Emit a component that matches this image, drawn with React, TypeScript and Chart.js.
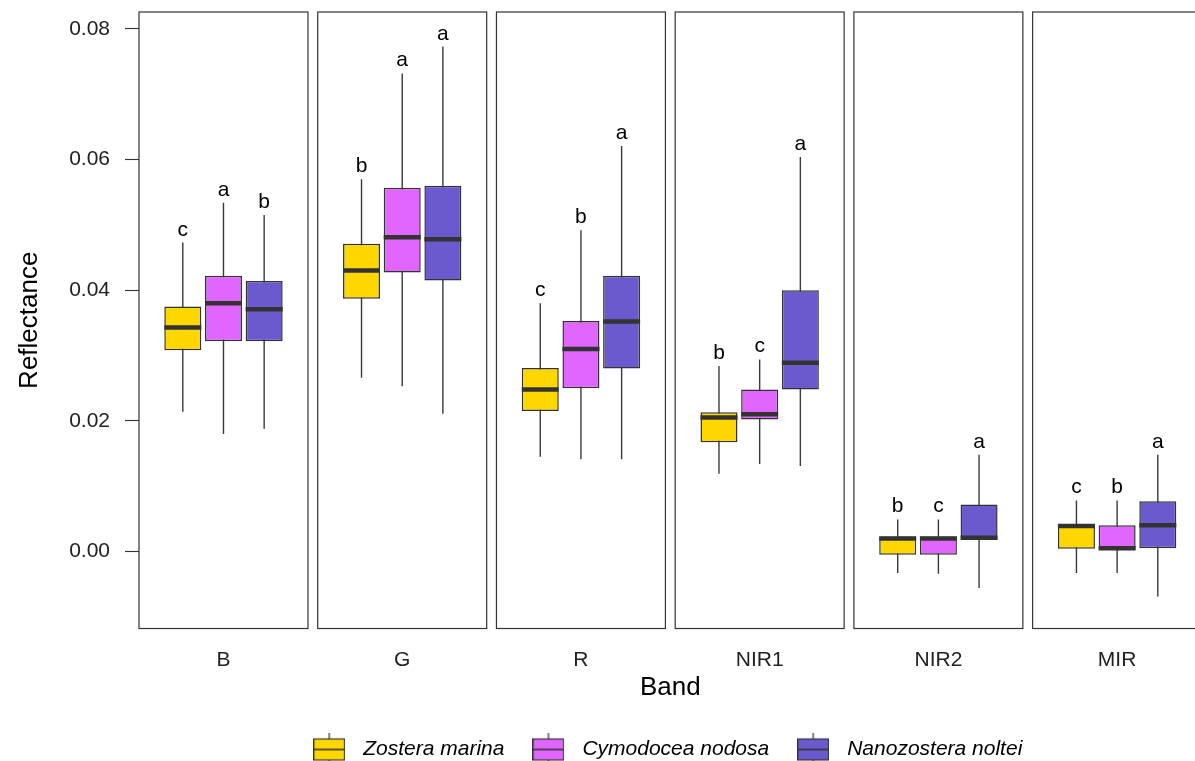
import React, { useEffect, useRef } from 'react';
import { Chart, registerables } from 'chart.js';

Chart.register(...registerables);

// ---------- data ----------
const BANDS = ['B', 'G', 'R', 'NIR1', 'NIR2', 'MIR'];
const SPECIES = ['Zostera marina', 'Cymodocea nodosa', 'Nanozostera noltei'];
const COLORS = ['#FFD700', '#E066FF', '#6A5ACD'];

// per band: [lower whisker, Q1, median, Q3, upper whisker]
const ZOSTERA_STATS = [
  [0.0214, 0.0308, 0.0343, 0.0375, 0.0473],
  [0.0266, 0.0387, 0.0430, 0.0471, 0.0570],
  [0.0145, 0.0215, 0.0248, 0.0281, 0.0380],
  [0.0119, 0.0167, 0.0205, 0.0213, 0.0284],
  [-0.0033, -0.0005, 0.0020, 0.0023, 0.0049],
  [-0.0033, 0.0004, 0.0039, 0.0042, 0.0078],
];
const CYMODOCEA_STATS = [
  [0.0180, 0.0322, 0.0380, 0.0422, 0.0534],
  [0.0253, 0.0427, 0.0481, 0.0557, 0.0732],
  [0.0141, 0.0250, 0.0310, 0.0353, 0.0492],
  [0.0134, 0.0202, 0.0210, 0.0248, 0.0294],
  [-0.0034, -0.0005, 0.0020, 0.0023, 0.0049],
  [-0.0033, 0.0003, 0.0005, 0.0040, 0.0078],
];
const NANOZOSTERA_STATS = [
  [0.0188, 0.0322, 0.0371, 0.0414, 0.0515],
  [0.0211, 0.0415, 0.0478, 0.0560, 0.0773],
  [0.0141, 0.0280, 0.0352, 0.0422, 0.0621],
  [0.0131, 0.0248, 0.0289, 0.0400, 0.0604],
  [-0.0056, 0.0019, 0.0021, 0.0072, 0.0148],
  [-0.0069, 0.0005, 0.0040, 0.0077, 0.0148],
];

const ZOSTERA_LETTERS = ['c', 'b', 'c', 'b', 'b', 'c'];
const CYMODOCEA_LETTERS = ['a', 'a', 'b', 'c', 'c', 'b'];
const NANOZOSTERA_LETTERS = ['b', 'a', 'a', 'a', 'a', 'a'];

const Y_TICKS = [0, 0.02, 0.04, 0.06, 0.08];

const STATS = [ZOSTERA_STATS, CYMODOCEA_STATS, NANOZOSTERA_STATS];
const LETTERS = [ZOSTERA_LETTERS, CYMODOCEA_LETTERS, NANOZOSTERA_LETTERS];

// ---------- layout (x in category units) ----------
const PITCH = 1.318;
const OFFSETS = [-0.3, 0, 0.3];
const HALF = 0.623;
const Y_MIN = -0.0118;
const Y_MAX = 0.0826;

const FONT = 'Liberation Sans, Arial, Helvetica, sans-serif';
const DARK = '#333333';

const pos = (band: number, sp: number) => band * PITCH + OFFSETS[sp];

function makeGlyph(color: string): HTMLCanvasElement {
  const c = document.createElement('canvas');
  c.width = 32;
  c.height = 34;
  const g = c.getContext('2d')!;
  g.strokeStyle = DARK;
  g.lineWidth = 1.2;
  g.beginPath();
  g.moveTo(16, 0);
  g.lineTo(16, 34);
  g.stroke();
  g.fillStyle = color;
  g.fillRect(0.6, 6.5, 30.8, 21);
  g.strokeRect(0.6, 6.5, 30.8, 21);
  g.lineWidth = 1.6;
  g.beginPath();
  g.moveTo(0.6, 17);
  g.lineTo(31.4, 17);
  g.stroke();
  return c;
}

const zeroPad = (s: any) => {
  s.paddingTop = 0;
  s.paddingBottom = 0;
  s.paddingLeft = 0;
  s.paddingRight = 0;
};

const panelPlugin = {
  id: 'panels',
  beforeDatasetsDraw(chart: any) {
    const { ctx, chartArea, scales } = chart;
    const x = scales.x;
    ctx.save();
    ctx.strokeStyle = DARK;
    ctx.lineWidth = 1.2;
    BANDS.forEach((_, i) => {
      const l = x.getPixelForValue(i * PITCH - HALF);
      const r = x.getPixelForValue(i * PITCH + HALF);
      ctx.strokeRect(l, chartArea.top, r - l, chartArea.bottom - chartArea.top);
    });
    ctx.restore();
  },
  afterDatasetsDraw(chart: any) {
    const { ctx, scales } = chart;
    ctx.save();
    ctx.fillStyle = '#000';
    ctx.font = `21px ${FONT}`;
    ctx.textAlign = 'center';
    ctx.textBaseline = 'alphabetic';
    BANDS.forEach((_, i) => {
      SPECIES.forEach((__, s) => {
        const px = scales.x.getPixelForValue(pos(i, s));
        const py = scales.y.getPixelForValue(STATS[s][i][4]) - 7;
        ctx.fillText(LETTERS[s][i], px, py);
      });
    });
    ctx.restore();
  },
};

export default function App() {
  const ref = useRef<HTMLCanvasElement>(null);

  useEffect(() => {
    const glyphs = COLORS.map(makeGlyph);
    const datasets: any[] = [];
    SPECIES.forEach((name, s) => {
      datasets.push({
        type: 'bar',
        label: name + ' whisker',
        data: BANDS.map((_, i) => ({ x: pos(i, s), y: [STATS[s][i][0], STATS[s][i][4]] })),
        backgroundColor: '#3a3a3a',
        borderWidth: 0,
        barThickness: 1.4,
        grouped: false,
        inflateAmount: 0,
        order: 3,
      });
    });
    SPECIES.forEach((name, s) => {
      datasets.push({
        type: 'bar',
        label: name,
        data: BANDS.map((_, i) => ({ x: pos(i, s), y: [STATS[s][i][1], STATS[s][i][3]] })),
        backgroundColor: COLORS[s],
        borderColor: DARK,
        borderWidth: 1.5,
        borderSkipped: false,
        barThickness: 37,
        grouped: false,
        inflateAmount: 0,
        order: 2,
      });
    });
    SPECIES.forEach((name, s) => {
      datasets.push({
        type: 'scatter',
        label: name + ' median',
        data: BANDS.map((_, i) => ({ x: pos(i, s), y: STATS[s][i][2] })),
        pointStyle: 'line',
        pointRadius: 18.5,
        pointHoverRadius: 18.5,
        pointBorderColor: DARK,
        pointBorderWidth: 4.5,
        borderColor: DARK,
        showLine: false,
        order: 1,
      });
    });

    const chart = new Chart(ref.current!, {
      type: 'bar',
      data: { datasets },
      plugins: [panelPlugin],
      options: {
        responsive: false,
        animation: false,
        devicePixelRatio: 1,
        layout: { autoPadding: false, padding: { top: 12, left: 0, right: 0, bottom: 0 } },
        plugins: {
          tooltip: { enabled: false },
          legend: {
            display: true,
            position: 'bottom',
            labels: {
              usePointStyle: true,
              pointStyleWidth: 47,
              padding: 20.5,
              color: '#000',
              font: { family: FONT, size: 21, style: 'italic' },
              generateLabels: () =>
                SPECIES.map((name, s) => ({
                  text: name,
                  pointStyle: glyphs[s],
                  fillStyle: COLORS[s],
                  strokeStyle: DARK,
                  lineWidth: 0,
                  hidden: false,
                  datasetIndex: 3 + s,
                  fontColor: '#000',
                })),
            },
          },
        },
        scales: {
          x: {
            type: 'linear',
            min: -HALF,
            max: (BANDS.length - 1) * PITCH + HALF,
            offset: false,
            grid: { display: false, drawTicks: false, tickLength: 0 },
            border: { display: false },
            afterBuildTicks: (s: any) => {
              s.ticks = BANDS.map((_, i) => ({ value: i * PITCH }));
            },
            afterFit: (s: any) => {
              s.height = 90;
              zeroPad(s);
            },
            ticks: {
              autoSkip: false,
              maxRotation: 0,
              padding: 19,
              color: '#222',
              font: { family: FONT, size: 21 },
              callback: (_v: any, idx: number) => BANDS[idx],
            },
            title: {
              display: true,
              text: 'Band',
              color: '#000',
              font: { family: FONT, size: 26 },
              padding: { top: 0, bottom: 15.4 },
            },
          },
          y: {
            type: 'linear',
            position: 'left',
            min: Y_MIN,
            max: Y_MAX,
            afterBuildTicks: (s: any) => {
              s.ticks = Y_TICKS.map((v) => ({ value: v }));
            },
            afterFit: (s: any) => {
              s.width = 139;
              zeroPad(s);
            },
            grid: {
              display: true,
              drawOnChartArea: false,
              drawTicks: true,
              tickLength: 14,
              tickColor: DARK,
              tickWidth: 1.1,
            },
            border: { display: false },
            ticks: {
              padding: 15,
              color: '#222',
              font: { family: FONT, size: 21 },
              callback: (v: any) => Number(v).toFixed(2),
            },
            title: {
              display: true,
              text: 'Reflectance',
              color: '#000',
              font: { family: FONT, size: 26 },
              padding: { top: 14.4, bottom: 0 },
            },
          },
          yR: {
            type: 'linear',
            position: 'right',
            display: true,
            grid: { display: false, drawTicks: false },
            border: { display: false },
            ticks: { display: false },
            afterFit: (s: any) => {
              s.width = 126.4;
              zeroPad(s);
            },
          },
        },
      } as any,
    });
    return () => chart.destroy();
  }, []);

  return (
    <div
      style={{
        position: 'fixed',
        left: 0,
        top: 0,
        width: 1195,
        height: 761,
        overflow: 'hidden',
        background: '#fff',
      }}
    >
      <canvas ref={ref} width={1328} height={770} style={{ display: 'block' }} />
    </div>
  );
}
